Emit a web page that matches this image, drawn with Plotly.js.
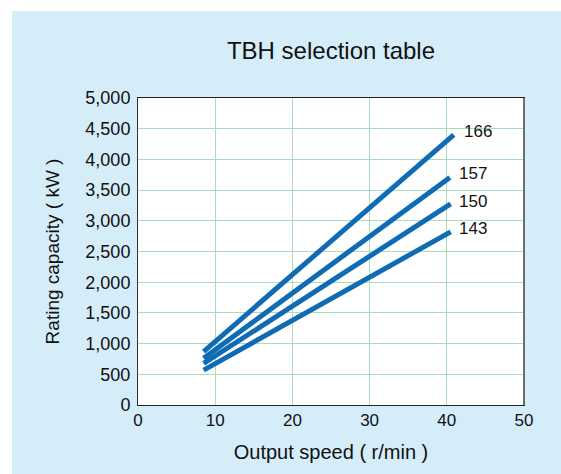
<!DOCTYPE html>
<html>
<head>
<meta charset="utf-8">
<script src="https://cdn.plot.ly/plotly-3.0.1.min.js"></script>
<style>
html,body{margin:0;padding:0;background:#ffffff;width:561px;height:474px;overflow:hidden;}
#chart{position:absolute;left:12px;top:11px;width:549px;height:463px;}
</style>
</head>
<body>
<div id="chart"></div>
<script>
const seriesNames = ["166", "157", "150", "143"];
const speed166 = [8.5, 40.9];
const cap166 = [870, 4400];
const speed157 = [8.5, 40.4];
const cap157 = [760, 3705];
const speed150 = [8.5, 40.5];
const cap150 = [677, 3275];
const speed143 = [8.5, 40.5];
const cap143 = [568, 2820];
const xTicks = [0, 10, 20, 30, 40, 50];
const yTicks = [0, 500, 1000, 1500, 2000, 2500, 3000, 3500, 4000, 4500, 5000];

const speeds = [speed166, speed157, speed150, speed143];
const caps = [cap166, cap157, cap150, cap143];
const lineColor = "#0f6cb4";
const font = "Liberation Sans, Arial, sans-serif";

const traces = seriesNames.map((n, i) => ({
  x: speeds[i], y: caps[i], type: "scatter", mode: "lines", name: n,
  line: {color: lineColor, width: 5}, hoverinfo: "skip"
}));

const labelShiftX = [8, 7, 6, 6];
const labelShiftY = [3, 4, 2, 3];
const annotations = seriesNames.map((n, i) => ({
  x: speeds[i][1], y: caps[i][1], xref: "x", yref: "y", text: n, showarrow: false,
  xanchor: "left", yanchor: "middle", xshift: labelShiftX[i], yshift: labelShiftY[i],
  font: {family: font, size: 17, color: "#111"}
}));

const layout = {
  width: 549, height: 463,
  paper_bgcolor: "#d5ecf9", plot_bgcolor: "#ffffff",
  margin: {l: 126, r: 37, t: 87, b: 69},
  showlegend: false,
  title: {text: "TBH selection table", font: {family: font, size: 24, color: "#111"},
          x: 0.5, xref: "paper", xanchor: "center", y: 0.914, yanchor: "middle"},
  xaxis: {range: [0, 50], tickvals: xTicks, ticktext: xTicks.map(String),
    showgrid: true, gridcolor: "#a9dcba", gridwidth: 1, zeroline: false,
    showline: true, linecolor: "#222", linewidth: 1, mirror: true,
    ticks: "", tickfont: {family: font, size: 17, color: "#111"},
    title: {text: "Output speed ( r/min )", font: {family: font, size: 20, color: "#111"}, standoff: 15}},
  yaxis: {range: [0, 5000], tickvals: yTicks, ticktext: yTicks.map(v => v.toLocaleString("en-US")),
    showgrid: true, gridcolor: "#a9dcba", gridwidth: 1, zeroline: false,
    showline: true, linecolor: "#333", linewidth: 1, mirror: true,
    ticks: "outside", ticklen: 3, tickcolor: "rgba(0,0,0,0)", tickfont: {family: font, size: 18, color: "#111"},
    title: {text: "Rating capacity ( kW )", font: {family: font, size: 19, color: "#111"}, standoff: 20}},
  shapes: [{type: "line", xref: "paper", yref: "paper", x0: 1, x1: 1, y0: 0, y1: 1,
            line: {color: "#6e6e6e", width: 2}}],
  annotations: annotations
};

Plotly.newPlot("chart", traces, layout, {displayModeBar: false, staticPlot: true});
</script>
</body>
</html>
